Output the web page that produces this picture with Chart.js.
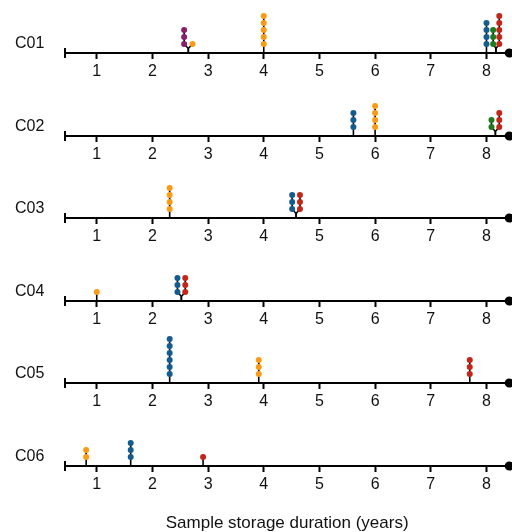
<!DOCTYPE html>
<html>
<head>
<meta charset="utf-8">
<script src="https://cdn.jsdelivr.net/npm/chart.js@4.4.0/dist/chart.umd.min.js"></script>
<style>
  html, body { margin: 0; padding: 0; background: #fff; }
  #wrap { position: relative; width: 512px; height: 532px; overflow: hidden; }
  #wrap canvas { position: absolute; left: 0; }
  .lab { position: absolute; left: 15px; font: 16px/16px "Liberation Sans", Arial, sans-serif; color: #111; }
</style>
</head>
<body>
<div id="wrap"></div>
<script>
// panels (one per category)
var panels = ['C01', 'C02', 'C03', 'C04', 'C05', 'C06'];
var tickValues = [1, 2, 3, 4, 5, 6, 7, 8];
var xMin = 0.43, xMax = 8.41;
var xTitle = 'Sample storage duration (years)';

// columns of each series: [panel, years, number of samples, fork x or null]
var purpleCols = [['C01', 2.57, 3, 2.645]];
var orangeCols = [
    ['C01', 2.72, 1, 2.645], ['C01', 4.0, 5, null], ['C02', 6.0, 4, null],
    ['C03', 2.31, 4, null], ['C04', 1.0, 1, null], ['C05', 3.91, 3, null],
    ['C06', 0.81, 2, null]
];
var blueCols = [
    ['C01', 8.0, 4, null], ['C02', 5.61, 3, null], ['C03', 4.51, 3, 4.58],
    ['C04', 2.45, 3, 2.52], ['C05', 2.31, 6, null], ['C06', 1.61, 3, null]
];
var greenCols = [['C01', 8.12, 3, 8.17], ['C02', 8.09, 2, 8.16]];
var redCols = [
    ['C01', 8.23, 5, 8.17], ['C02', 8.23, 3, 8.16], ['C03', 4.65, 3, 4.58],
    ['C04', 2.59, 3, 2.52], ['C05', 7.7, 3, null], ['C06', 2.91, 1, null]
];

var series = [
    { colour: '#8b1e66', cols: purpleCols },
    { colour: '#fb9a14', cols: orangeCols },
    { colour: '#125c90', cols: blueCols },
    { colour: '#1c7b1e', cols: greenCols },
    { colour: '#c22619', cols: redCols }
];

Chart.defaults.font.family = '"Liberation Sans", Arial, sans-serif';
Chart.defaults.color = '#111';

var yMin = -0.29;     // axis level, in dot units
var plotH = 52;       // px above the axis
var dotStep = 7;      // px per dot
var forkLift = 0.65;  // height of the fork joint

var wrap = document.getElementById('wrap');

panels.forEach(function (panel, i) {
    var axisY = Math.round(53 + i * 82.6);
    var last = i === panels.length - 1;
    var h = last ? 118 : 83;

    var cv = document.createElement('canvas');
    cv.width = 512;
    cv.height = h;
    cv.style.top = (axisY - plotH) + 'px';
    wrap.appendChild(cv);

    var lab = document.createElement('div');
    lab.className = 'lab';
    lab.textContent = panel;
    lab.style.top = (axisY - 18) + 'px';
    wrap.appendChild(lab);

    var datasets = [];
    series.forEach(function (s) {
        var pts = [];
        s.cols.forEach(function (c) {
            if (c[0] !== panel) return;
            for (var k = 1; k <= c[2]; k++) pts.push({ x: c[1], y: k });
            var stem = c[3] == null
                ? [{ x: c[1], y: yMin }, { x: c[1], y: c[2] }]
                : [{ x: c[3], y: yMin }, { x: c[3], y: yMin + forkLift }, { x: c[1], y: 1 }, { x: c[1], y: c[2] }];
            datasets.push({
                data: stem, showLine: true, borderColor: '#000', borderWidth: 1.6,
                pointRadius: 0, order: 2, clip: false
            });
        });
        if (pts.length) {
            datasets.push({
                data: pts, backgroundColor: s.colour, pointBackgroundColor: s.colour,
                pointRadius: 3, pointBorderWidth: 0, order: 0, clip: false
            });
        }
    });
    // axis end marks
    datasets.push({
        data: [{ x: xMin, y: yMin }, { x: xMax, y: yMin }],
        pointStyle: ['line', 'circle'], pointRotation: [90, 0], pointRadius: [5, 4.6],
        pointBackgroundColor: '#000', pointBorderColor: '#000', pointBorderWidth: [2, 0],
        order: 1, clip: false
    });

    new Chart(cv, {
        type: 'scatter',
        data: { datasets: datasets },
        options: {
            responsive: false,
            animation: false,
            events: [],
            layout: { autoPadding: false, padding: { left: 65, right: 2.7, top: 0, bottom: 0 } },
            plugins: { legend: { display: false }, tooltip: { enabled: false } },
            scales: {
                x: {
                    type: 'linear',
                    min: xMin,
                    max: xMax,
                    afterBuildTicks: function (s) {
                        s.ticks = tickValues.map(function (v) { return { value: v }; });
                    },
                    afterFit: function (s) { s.height = h - plotH; },
                    grid: {
                        drawOnChartArea: false, drawTicks: true, tickLength: 6,
                        tickWidth: 2, tickColor: '#000', color: '#000'
                    },
                    border: { display: true, color: '#000', width: 2 },
                    ticks: { color: '#111', padding: 3, font: { size: 16 } },
                    title: {
                        display: last, text: xTitle, color: '#111',
                        font: { size: 17, lineHeight: 1 }, padding: 0
                    }
                },
                y: { display: false, min: yMin, max: yMin + plotH / dotStep }
            }
        }
    });
});
</script>
</body>
</html>
